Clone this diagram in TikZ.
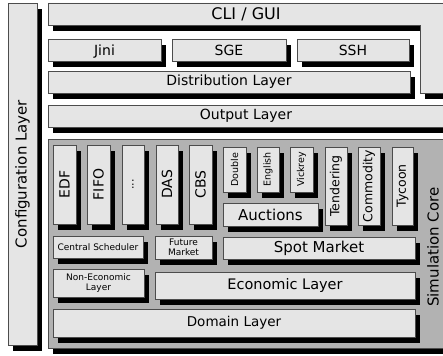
\documentclass[tikz,border=0pt]{standalone}
\usepackage{fontspec}
\setmainfont{DejaVu Sans}
\usetikzlibrary{shadows}
\tikzset{
  sh/.style={drop shadow={shadow xshift=5pt,shadow yshift=-6pt,fill=black,opacity=1}},
  box/.style={draw=black!70,line width=0.7pt,fill=gray!20,inner sep=0pt,outer sep=0pt,sh,
    font=\fontsize{14}{16}\selectfont},
  core/.style={draw=black!70,line width=0.8pt,fill=gray!60,inner sep=0pt,outer sep=0pt,sh},
  small/.style={font=\fontsize{9}{10}\selectfont,align=center},
  mid/.style={font=\fontsize{12.5}{14}\selectfont},
  tiny/.style={font=\fontsize{9.5}{11}\selectfont},
  flat/.style={text height=10.2pt,text depth=0pt},
}
\newcommand\bx[7][]{\node[box,anchor=north west,minimum width={(#5-#3)*1pt},minimum height={(#6-#4)*1pt},#1] (#2) at (#3,#4) {#7};}
\begin{document}
\begin{tikzpicture}[x=1pt,y=-1pt]
\useasboundingbox (0,0) rectangle (443,355);
\clip (0,0) rectangle (443,355);
% configuration layer
\bx[font=\fontsize{15}{17}\selectfont]{conf}{8}{3}{37}{345}{\rotatebox{90}{Configuration Layer}}
% CLI / GUI L-shape
\fill[black] (53,9) -- (460,9) -- (460,99) -- (425,99) -- (425,31) -- (53,31) -- cycle;
\draw[draw=black!70,line width=0.7pt,fill=gray!20] (48,3) -- (460,3) -- (460,93) -- (420,93) -- (420,25) -- (48,25) -- cycle;
\node[font=\fontsize{16}{18}\selectfont] (cli) at (246,14) {CLI / GUI};
% distribution
\bx[flat]{jini}{48}{39}{161}{61}{Jini}
\bx[flat]{sge}{172}{39}{286}{61}{SGE}
\bx[flat]{ssh}{297}{39}{409}{61}{SSH}
\bx{dist}{48}{71}{410}{93}{Distribution Layer}
% output
\bx{out}{48}{105}{460}{127}{\hspace*{-16pt}Output Layer}
% simulation core
\node[core,anchor=north west,minimum width=412pt,minimum height=209pt] (simcore) at (48,139) {};
\node[font=\fontsize{15}{17}\selectfont,rotate=90] (simlabel) at (433,247) {Simulation Core};
% scheduling policies
\bx{edf}{53}{145}{76}{224}{\rotatebox{90}{EDF}}
\bx{fifo}{87}{145}{110}{224}{\rotatebox{90}{FIFO}}
\bx{dots}{122}{145}{144}{224}{\rotatebox{90}{\fontsize{11}{12}\selectfont...}}
\bx{das}{156}{145}{178}{224}{\rotatebox{90}{DAS}}
\bx{cbs}{189}{145}{212}{224}{\rotatebox{90}{CBS}}
\bx[tiny]{double}{223}{147}{246}{192}{\rotatebox{90}{Double}}
\bx[tiny]{english}{257}{147}{279}{192}{\rotatebox{90}{English}}
\bx[tiny]{vickrey}{290}{147}{313}{192}{\rotatebox{90}{Vickrey}}
\bx[font=\fontsize{15}{17}\selectfont]{auctions}{223}{203}{318}{226}{Auctions}
\bx[mid]{tender}{325}{147}{347}{225}{\rotatebox{90}{Tendering}}
\bx[mid]{commod}{358}{147}{380}{225}{\rotatebox{90}{Commodity}}
\bx[mid]{tycoon}{392}{147}{413}{225}{\rotatebox{90}{Tycoon}}
% markets
\bx[small]{central}{53}{236}{143}{258}{Central Scheduler}
\bx[small]{future}{155}{236}{212}{259}{Future\\Market}
\bx[font=\fontsize{15}{17}\selectfont]{spot}{223}{237}{415}{259}{Spot Market}
\bx[small]{noneco}{53}{269}{144}{297}{Non-Economic\\Layer}
\bx[font=\fontsize{14.5}{17}\selectfont]{eco}{155}{272}{415}{299}{Economic Layer}
\bx[font=\fontsize{13.5}{16}\selectfont]{domain}{53}{309}{415}{337}{Domain Layer}
\end{tikzpicture}
\end{document}
